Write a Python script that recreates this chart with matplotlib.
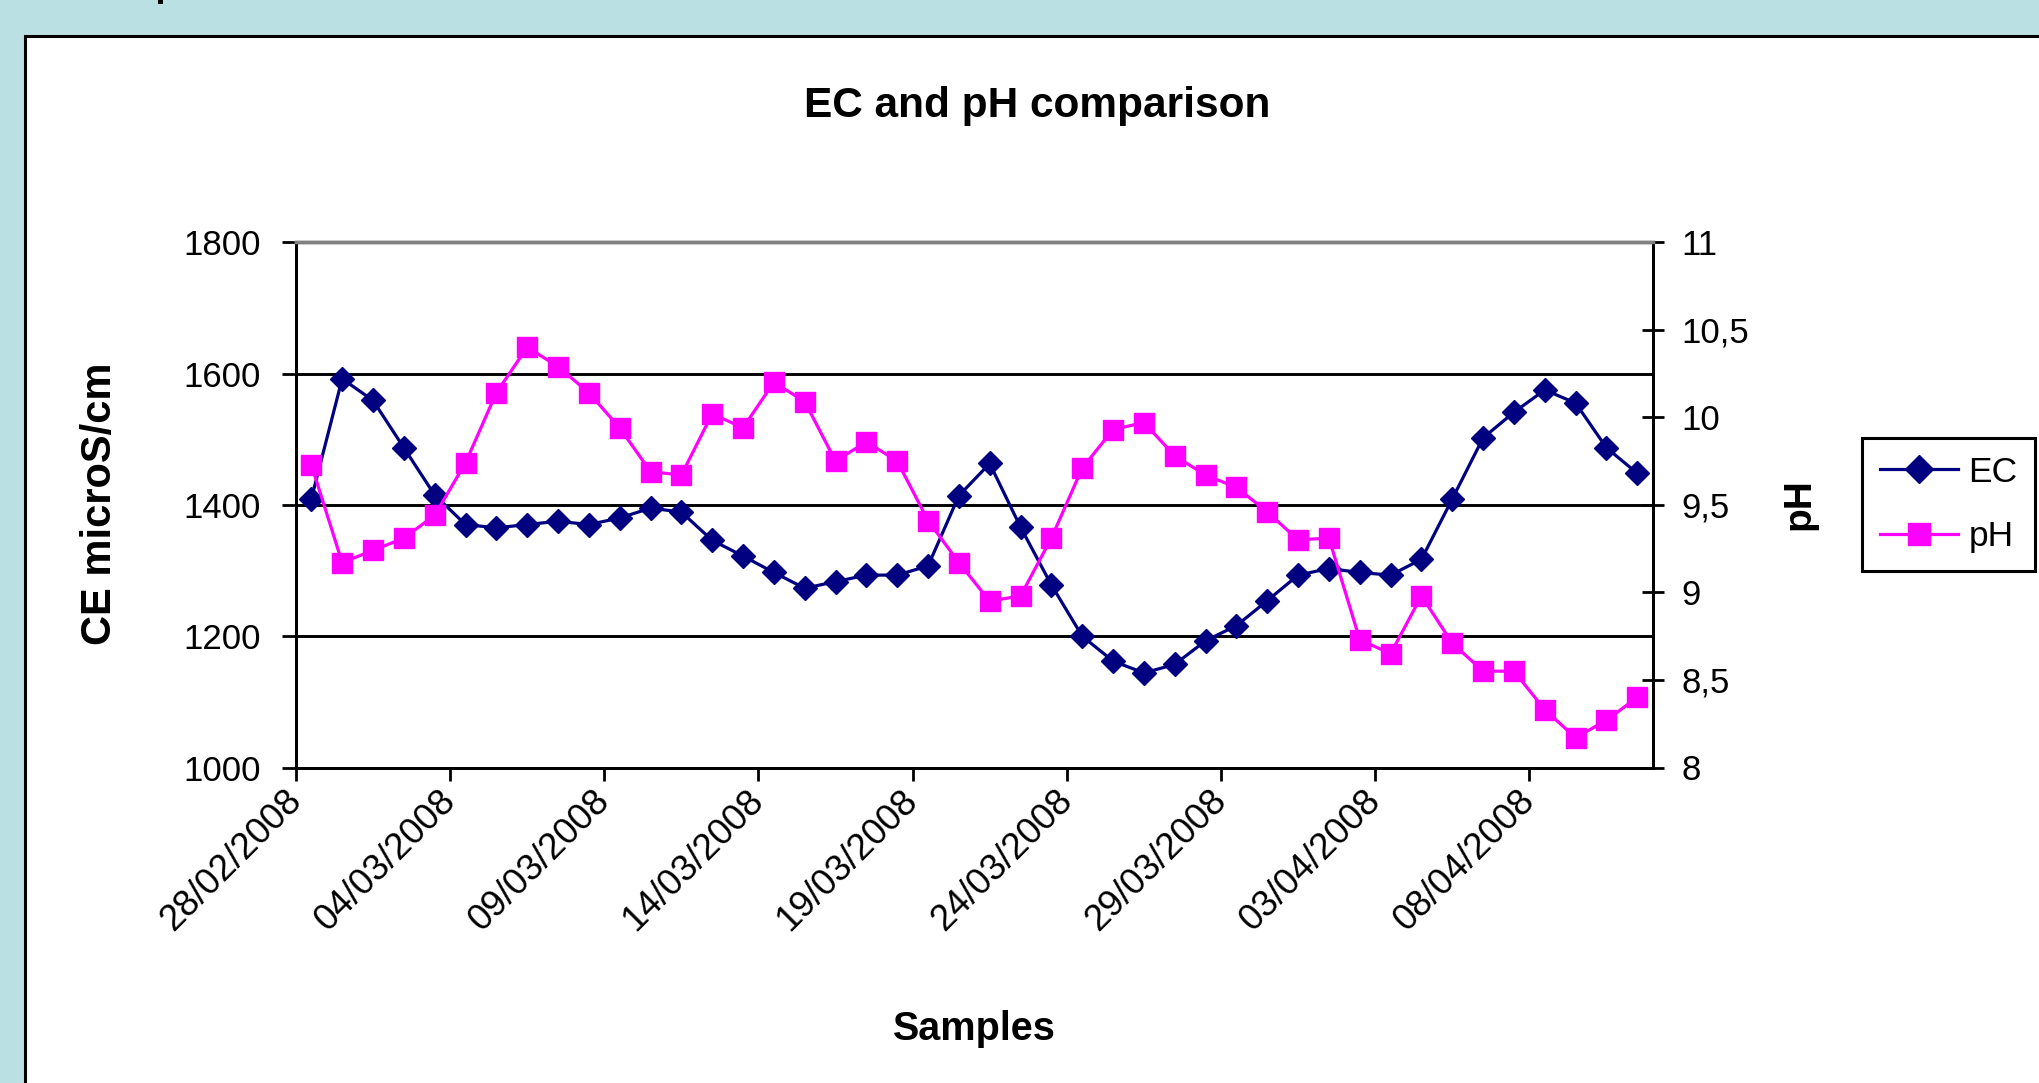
import numpy as np
import pandas as pd
import matplotlib
matplotlib.use("Agg")
import matplotlib.pyplot as plt
from matplotlib.patches import Rectangle
from matplotlib.ticker import FuncFormatter
import matplotlib.dates as mdates

plt.rcParams['font.family'] = ['Liberation Sans', 'DejaVu Sans']

# daily samples, 28/02/2008 .. 11/04/2008
start_date = "2008-02-28"
ec = [1409, 1592, 1559, 1487, 1415, 1370, 1365, 1370, 1375, 1370,
      1380, 1395, 1389, 1346, 1322, 1297, 1273, 1283, 1293, 1293,
      1307, 1414, 1463, 1366, 1278, 1200, 1162, 1144, 1157, 1193,
      1216, 1254, 1293, 1303, 1297, 1293, 1317, 1409, 1502, 1541,
      1575, 1555, 1487, 1448]
ph = [9.73, 9.17, 9.24, 9.31, 9.44, 9.74, 10.14, 10.40, 10.29, 10.14,
      9.94, 9.69, 9.67, 10.02, 9.94, 10.20, 10.09, 9.75, 9.86, 9.75,
      9.41, 9.17, 8.95, 8.98, 9.31, 9.71, 9.93, 9.97, 9.78, 9.67,
      9.60, 9.46, 9.30, 9.31, 8.73, 8.65, 8.98, 8.71, 8.55, 8.55,
      8.33, 8.17, 8.27, 8.40]
ec_ticks = [1000, 1200, 1400, 1600, 1800]
ph_ticks = [8, 8.5, 9, 9.5, 10, 10.5, 11]
tick_dates = pd.date_range(start_date, "2008-04-08", freq="5D")

dates = pd.date_range(start_date, periods=len(ec), freq="D")
# excel draws each point in the middle of its day slot
x = dates + pd.Timedelta(hours=12)

W, H = 2040, 1083
fig = plt.figure(figsize=(W / 100, H / 100), dpi=100, facecolor='#BBE0E3')

# white chart panel with black border, running off the right/bottom edge
fig.add_artist(Rectangle((25 / W, -0.05), 1.1, 1.05 - 36 / H, transform=fig.transFigure,
                         facecolor='white', edgecolor='black', lw=2.2, zorder=-1))
# cut-off glyph at the top of the page
fig.add_artist(Rectangle((158 / W, 1 - 4 / H), 5 / W, 4 / H, transform=fig.transFigure,
                         facecolor='black', edgecolor='none', zorder=-1))

ax = fig.add_axes([295.9 / W, 1 - 767.5 / H, (1652.7 - 295.9) / W, (767.5 - 242.2) / H])
ax2 = ax.twinx()

l1, = ax.plot(x, ec, color='#000080', lw=2.3, marker='D', ms=12.5, mew=1,
              mec='#000080', mfc='#000080', zorder=3)
l2, = ax2.plot(x, ph, color='#FF00FF', lw=2.3, marker='s', ms=14, mew=1,
               mec='#FF00FF', mfc='#FF00FF', zorder=3)

ax.set_xlim(dates[0], dates[-1] + pd.Timedelta(days=1))
ax.set_ylim(1000, 1800)
ax2.set_ylim(8, 11)
ax.set_yticks(ec_ticks)
ax2.set_yticks(ph_ticks)
ax2.yaxis.set_major_formatter(FuncFormatter(lambda v, p: f"{v:g}".replace('.', ',')))
ax.set_xticks(tick_dates)
ax.xaxis.set_major_formatter(mdates.DateFormatter('%d/%m/%Y'))

ax.yaxis.grid(True, color='black', lw=2.1)
ax.set_axisbelow(True)

for a in (ax, ax2):
    for s in a.spines.values():
        s.set_linewidth(2.1)
        s.set_color('black')
    a.spines['top'].set_color('#808080')
    a.spines['top'].set_linewidth(2.5)

ax.tick_params(axis='y', direction='out', length=10, width=2, labelsize=25, pad=15)
ax.tick_params(axis='x', direction='out', length=9.4, width=2, labelsize=26.5, pad=11)
ax2.tick_params(axis='y', direction='inout', length=16, width=2, labelsize=25, pad=13)

for lab in ax.get_xticklabels():
    lab.set_rotation(45)
    lab.set_ha('right')
    lab.set_va('center')
    lab.set_rotation_mode('anchor')

fig.text(1037.6 / W, 1 - 117 / H, 'EC and pH comparison', ha='center', va='baseline',
         fontsize=30.5, weight='bold')
fig.text(100 / W, 1 - 504 / H, 'CE microS/cm', ha='center', va='center', rotation=90,
         fontsize=30, weight='bold')
fig.text(1799 / W, 1 - 504 / H, 'pH', ha='center', va='center', rotation=90,
         fontsize=28, weight='bold')
fig.text(974.3 / W, 1 - 1040 / H, 'Samples', ha='center', va='baseline',
         fontsize=28.5, weight='bold')

leg = fig.legend([l1, l2], ['EC', 'pH'], loc='center left',
                 bbox_to_anchor=(1862 / W, 1 - 504.5 / H), fontsize=25.5,
                 frameon=True, fancybox=False, framealpha=1, edgecolor='black',
                 handlelength=2.2, handletextpad=0.3, borderpad=0.5,
                 labelspacing=0.9, borderaxespad=0, markerscale=1.1)
leg.get_frame().set_linewidth(2.2)

fig.savefig('out.png', dpi=100, facecolor=fig.get_facecolor())
